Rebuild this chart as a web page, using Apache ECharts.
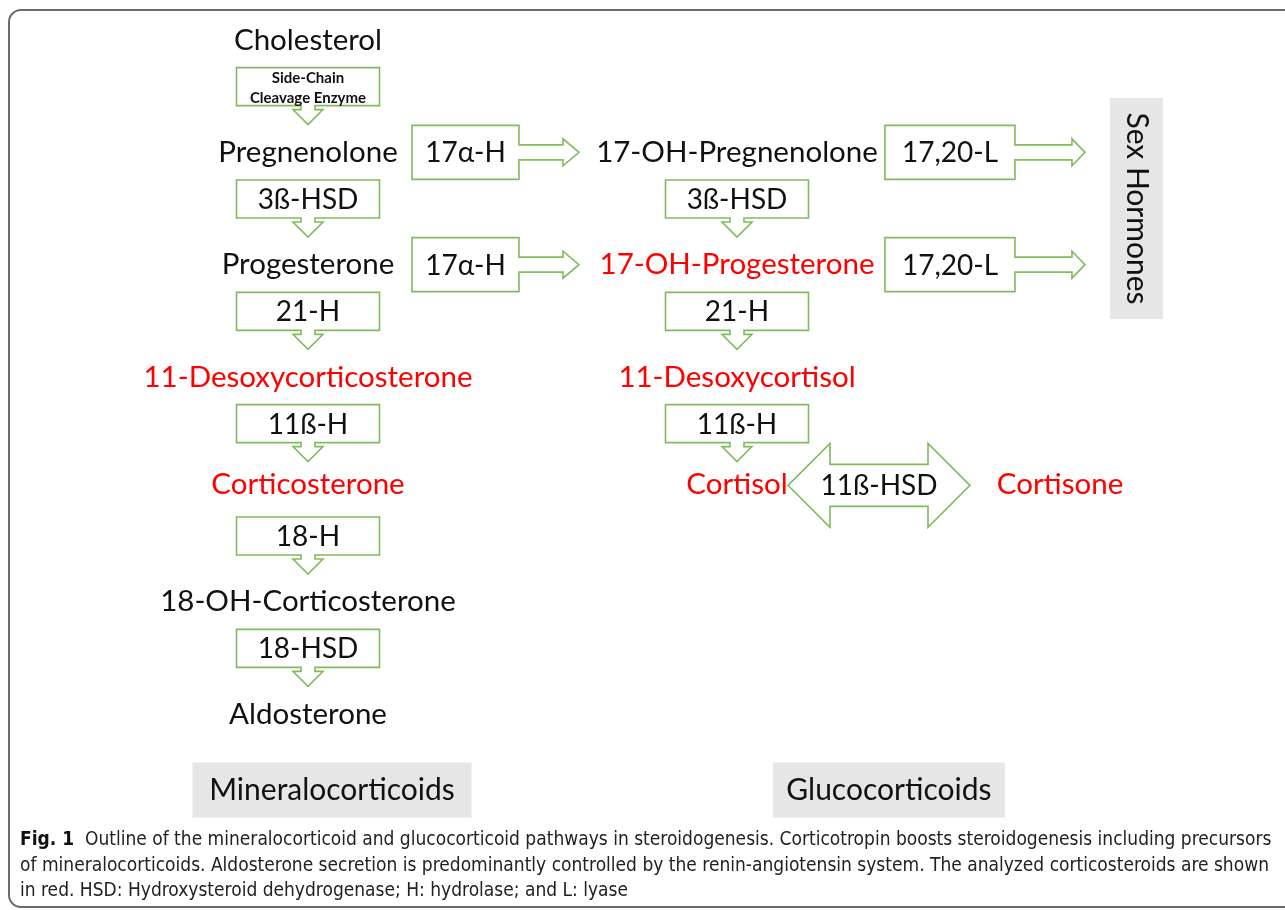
<!DOCTYPE html>
<html>
<head>
<meta charset="utf-8">
<script src="https://cdn.jsdelivr.net/npm/echarts@6/dist/echarts.min.js"></script>
<style>
  html, body { margin: 0; padding: 0; background: #fff; }
  #main { width: 1285px; height: 910px; }
</style>
</head>
<body>
<div id="main"></div>
<script>
// 化合物：名称 / 列 / 行 / 是否被分析（红色）
var compoundNames = ['Cholesterol', 'Pregnenolone', 'Progesterone', '11-Desoxycorticosterone',
  'Corticosterone', '18-OH-Corticosterone', 'Aldosterone',
  '17-OH-Pregnenolone', '17-OH-Progesterone', '11-Desoxycortisol', 'Cortisol', 'Cortisone'];
var compoundCols = [0, 0, 0, 0, 0, 0, 0, 1, 1, 1, 1, 1.753];
var compoundRows = [0, 1, 2, 3, 4, 5, 6, 1, 2, 3, 4, 4];
var compoundAnalyzed = [false, false, false, true, true, false, false, false, true, true, true, true];

// 向下的酶步骤
var stepNames = ['Side-Chain\nCleavage Enzyme', '3ß-HSD', '21-H', '11ß-H', '18-H', '18-HSD', '3ß-HSD', '21-H', '11ß-H'];
var stepCols = [0, 0, 0, 0, 0, 0, 1, 1, 1];
var stepRows = [0.5, 1.5, 2.5, 3.5, 4.5, 5.5, 1.5, 2.5, 3.5];

// 向右的酶步骤
var sideNames = ['17α-H', '17α-H', '17,20-L', '17,20-L'];
var sideCols = [0.437, 0.437, 1.578, 1.578];
var sideRows = [1, 2, 1, 2];

// 双向步骤
var swapNames = ['11ß-HSD'];
var swapCols = [1.331];
var swapRows = [4];

// 分组标签
var groupNames = ['Sex Hormones', 'Mineralocorticoids', 'Glucocorticoids'];
var groupCols = [1.931, 0.056, 1.354];
var groupRows = [1.5, 6.677, 6.677];

// 图注
var captionLines = [
  'Outline of the mineralocorticoid and glucocorticoid pathways in steroidogenesis. Corticotropin boosts steroidogenesis including precursors',
  'of mineralocorticoids. Aldosterone secretion is predominantly controlled by the renin-angiotensin system. The analyzed corticosteroids are shown',
  'in red. HSD: Hydroxysteroid dehydrogenase; H: hydrolase; and L: lyase'
];

// ---- 样式 ----
var FONT = 'Lato, "Noto Sans", sans-serif';
var CAP_FONT = '"Liberation Sans Narrow", "DejaVu Sans Condensed", Lato, sans-serif';
var GREEN = '#80bb5e';
var RED = '#ff0000';
var INK = '#111';
var GRAY_BOX = '#e6e6e6';
var COL_X0 = 308, COL_W = 429;

var sideShape = {
  '17α-H': { box: 107, shaft: 44, head: 16 },
  '17,20-L': { box: 130, shaft: 57, head: 13 }
};
var groupShape = {
  'Sex Hormones': { w: 53, h: 221, vertical: true },
  'Mineralocorticoids': { w: 279, h: 55 },
  'Glucocorticoids': { w: 232, h: 55 }
};

function zip(cols, rows) {
  return cols.map(function (c, i) { return [c, rows[i]]; });
}

var myChart = echarts.init(document.getElementById('main'));

function boxText(text, x, y, small) {
  return {
    type: 'text',
    style: {
      text: text, x: x, y: y, fill: INK,
      font: small ? 'bold 15px ' + FONT : '28px ' + FONT,
      lineHeight: small ? 20 : 30,
      align: 'center', verticalAlign: 'middle'
    }
  };
}

var option = {
  animation: false,
  grid: { left: 0, right: 0, top: 40, height: 674 },
  xAxis: { type: 'value', min: -COL_X0 / COL_W, max: (1285 - COL_X0) / COL_W, show: false },
  yAxis: { type: 'value', min: 0, max: 6, inverse: true, show: false },
  graphic: [
    {
      type: 'rect',
      shape: { x: 9, y: 10, width: 1320, height: 897, r: 12 },
      style: { fill: 'none', stroke: '#6b6b6b', lineWidth: 2 }
    },
    {
      type: 'text',
      style: {
        x: 20, y: 840, text: '{b|Fig. 1}  ' + captionLines[0],
        font: '19px ' + CAP_FONT, fill: '#222', verticalAlign: 'middle',
        rich: { b: { font: 'bold 19px ' + CAP_FONT, fill: '#111' } }
      }
    },
    {
      type: 'text',
      style: { x: 20, y: 866, text: captionLines[1], font: '19px ' + CAP_FONT, fill: '#222', verticalAlign: 'middle' }
    },
    {
      type: 'text',
      style: { x: 20, y: 891, text: captionLines[2], font: '19px ' + CAP_FONT, fill: '#222', verticalAlign: 'middle' }
    }
  ],
  series: [
    {
      // 分组标签
      type: 'custom',
      clip: false,
      data: zip(groupCols, groupRows),
      renderItem: function (params, api) {
        var p = api.coord([api.value(0), api.value(1)]);
        var name = groupNames[params.dataIndex];
        var s = groupShape[name];
        return {
          type: 'group',
          children: [
            { type: 'rect', shape: { x: p[0] - s.w / 2, y: p[1] - s.h / 2, width: s.w, height: s.h }, style: { fill: GRAY_BOX } },
            {
              type: 'text', x: p[0], y: p[1], rotation: s.vertical ? -Math.PI / 2 : 0,
              style: { text: name, x: 0, y: 0, fill: INK, font: '30px ' + FONT, align: 'center', verticalAlign: 'middle' }
            }
          ]
        };
      }
    },
    {
      // 向下步骤
      type: 'custom',
      clip: false,
      data: zip(stepCols, stepRows),
      renderItem: function (params, api) {
        var p = api.coord([api.value(0), api.value(1)]);
        var cx = p[0], top = p[1] - 28.5;
        var hw = 71.5, bh = 38;
        var pts = [
          [cx - hw, top], [cx + hw, top], [cx + hw, top + bh], [cx + 7, top + bh],
          [cx + 7, top + bh + 4], [cx + 15, top + bh + 4], [cx, top + 57],
          [cx - 15, top + bh + 4], [cx - 7, top + bh + 4], [cx - 7, top + bh], [cx - hw, top + bh]
        ];
        var name = stepNames[params.dataIndex];
        return {
          type: 'group',
          children: [
            { type: 'polygon', shape: { points: pts }, style: { fill: '#fff', stroke: GREEN, lineWidth: 1.6 } },
            boxText(name, cx, top + bh / 2 + 1, name.indexOf('\n') >= 0)
          ]
        };
      }
    },
    {
      // 向右步骤
      type: 'custom',
      clip: false,
      data: zip(sideCols, sideRows),
      renderItem: function (params, api) {
        var p = api.coord([api.value(0), api.value(1)]);
        var name = sideNames[params.dataIndex];
        var s = sideShape[name];
        var total = s.box + s.shaft + s.head;
        var cy = p[1];
        var left = p[0] - total / 2, bx = left + s.box, se = bx + s.shaft, tip = se + s.head;
        var pts = [
          [left, cy - 27], [bx, cy - 27], [bx, cy - 7.5], [se, cy - 7.5], [se, cy - 13.5], [tip, cy],
          [se, cy + 13.5], [se, cy + 7.5], [bx, cy + 7.5], [bx, cy + 27], [left, cy + 27]
        ];
        return {
          type: 'group',
          children: [
            { type: 'polygon', shape: { points: pts }, style: { fill: '#fff', stroke: GREEN, lineWidth: 1.6 } },
            boxText(name, left + s.box / 2, cy + 1, false)
          ]
        };
      }
    },
    {
      // 双向步骤
      type: 'custom',
      clip: false,
      data: zip(swapCols, swapRows),
      renderItem: function (params, api) {
        var p = api.coord([api.value(0), api.value(1)]);
        var cx = p[0], cy = p[1] - 4;
        var pts = [
          [cx - 91, cy], [cx - 49, cy - 42], [cx - 49, cy - 21], [cx + 49, cy - 21], [cx + 49, cy - 42],
          [cx + 91, cy], [cx + 49, cy + 42], [cx + 49, cy + 21], [cx - 49, cy + 21], [cx - 49, cy + 42]
        ];
        return {
          type: 'group',
          children: [
            { type: 'polygon', shape: { points: pts }, style: { fill: '#fff', stroke: GREEN, lineWidth: 1.6 } },
            boxText(swapNames[params.dataIndex], cx, cy + 1, false)
          ]
        };
      }
    },
    {
      // 化合物
      type: 'custom',
      clip: false,
      data: zip(compoundCols, compoundRows),
      renderItem: function (params, api) {
        var p = api.coord([api.value(0), api.value(1)]);
        var i = params.dataIndex;
        return {
          type: 'text',
          style: {
            text: compoundNames[i], x: p[0], y: p[1] - (compoundRows[i] === 4 ? 5 : 0),
            fill: compoundAnalyzed[i] ? RED : INK,
            font: '29.5px ' + FONT, align: 'center', verticalAlign: 'middle'
          }
        };
      }
    }
  ]
};

myChart.setOption(option);
</script>
</body>
</html>
